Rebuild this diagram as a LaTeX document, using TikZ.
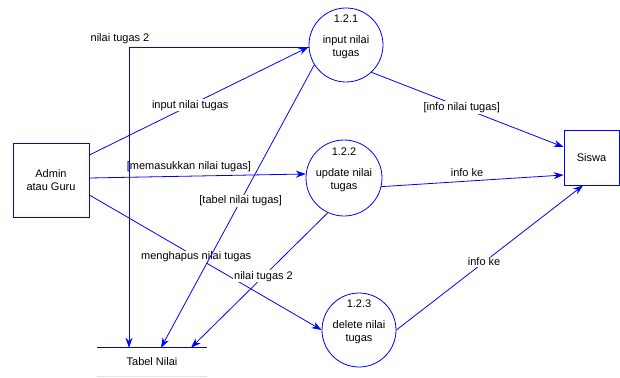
\documentclass[tikz,border=0pt]{standalone}
\usepackage{fontspec}
\setmainfont{Liberation Sans}
\usetikzlibrary{arrows.meta}
\begin{document}
\begin{tikzpicture}[x=1pt,y=-1pt]
 % definition des styles
  \tikzstyle{entite}=[rectangle,draw=blue,line width=0.8pt,minimum width=76pt,minimum height=74pt,align=center,font=\fontsize{11}{13}\selectfont]
  \tikzstyle{processus}=[circle,draw=blue,line width=0.8pt,minimum size=74pt,inner sep=0pt]
  \tikzstyle{flux}=[draw=blue,line width=0.8pt,-{Stealth[length=10pt,width=7pt]}]
  \tikzstyle{etiq}=[font=\fontsize{11}{13}\selectfont,inner sep=1pt]
  \tikzstyle{coupe}=[etiq,fill=white]
  \tikzstyle{texte}=[align=center,font=\fontsize{11}{13}\selectfont]
  \useasboundingbox (0,0) rectangle (620,377);
 % les noeuds
  \node[entite] (admin) at (51,180) {Admin\\atau Guru};
  \node[entite,minimum width=55pt,minimum height=55pt] (siswa) at (591.5,157.5) {Siswa};
  \node[processus,label={[texte,yshift=8pt]center:{1.2.1\\[8pt]input nilai\\tugas}}] (p1) at (346,45) {};
  \node[processus,minimum size=76pt,label={[texte,yshift=8pt]center:{1.2.2\\[8pt]update nilai\\tugas}}] (p2) at (344,178) {};
  \node[processus,label={[texte,yshift=8pt]center:{1.2.3\\[8pt]delete nilai\\tugas}}] (p3) at (359,330) {};
  \node[etiq,minimum width=109pt,minimum height=28pt] (tabel) at (152,362) {Tabel Nilai};
  \draw[blue,line width=0.8pt] (tabel.north west) -- (tabel.north east);
  \draw[blue!12,line width=0.8pt] (tabel.south west) -- (tabel.south east);
 % les fleches
  \draw[flux] ([yshift=25pt]admin.east) -- (p1.183) node[coupe,pos=0.46]{input nilai tugas};
  \draw[flux] ([yshift=2pt]admin.east) -- (p2.174) node[etiq,pos=0.46,above=3pt]{[memasukkan nilai tugas]};
  \draw[flux] ([yshift=-15pt]admin.east) -- (p3.180) node[coupe,pos=0.46]{menghapus nilai tugas};
  \draw[flux,{Stealth[length=10pt,width=7pt]}-] ([xshift=-23pt]tabel.north) |- (p1.183) node[etiq,pos=0.5,above=2pt,xshift=-9pt]{nilai tugas 2};
  \draw[flux] (p1.212) -- ([xshift=9pt]tabel.north) node[coupe,pos=0.48]{[tabel nilai tugas]};
  \draw[flux] (p2.245) -- ([xshift=39pt]tabel.north) node[coupe,pos=0.47]{nilai tugas 2};
  \draw[flux] (p1.313) -- ([yshift=10.5pt]siswa.west) node[coupe,pos=0.47]{[info nilai tugas]};
  \draw[flux] (p2.347) -- ([yshift=-17.5pt]siswa.west) node[etiq,pos=0.47,above=3pt]{info ke};
  \draw[flux] (p3.0) -- ([xshift=-8.5pt]siswa.south) node[coupe,pos=0.47]{info ke};
\end{tikzpicture}
\end{document}
